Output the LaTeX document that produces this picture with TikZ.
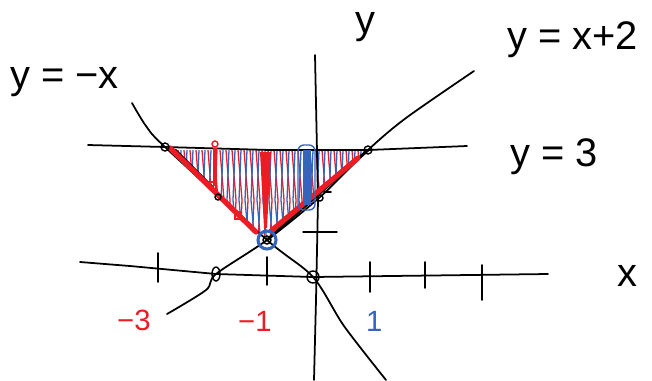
\documentclass[tikz,border=0pt]{standalone}
\usepackage{fontspec}
\setmainfont{Liberation Sans}
\usepackage{xcolor}
\usetikzlibrary{math}
\definecolor{myblue}{RGB}{52,100,190}
\definecolor{myred}{RGB}{237,28,36}
\tikzset{
  pen/.style={line width=1.5pt, line cap=round, line join=round},
  hatch/.style={line width=1.1pt},
  lbl/.style={font=\fontsize{34}{40}\selectfont, inner sep=0pt, anchor=base west},
  num/.style={font=\fontsize{25}{30}\selectfont, inner sep=0pt, anchor=base west}
}
\begin{document}
\begin{tikzpicture}[x=0.03cm, y=-0.03cm]
\tikzmath{
\d=6;
}
\useasboundingbox (0,0) rectangle (652,380);

\coordinate (O) at (313,277);
\coordinate (V) at (267,240);
\coordinate (L3) at (165,147);
\coordinate (R3) at (368,150);
\coordinate (Xm2) at (216,274);

\begin{scope}
\clip (L3) -- (R3) -- (V) -- cycle;
\foreach \k in {0,...,34}{
  \draw[hatch, myred] (166+\d*\k,150) -- (170+\d*\k,200) -- (168+\d*\k,245);
  \draw[hatch, myblue] (169+\d*\k,150) -- (167+\d*\k,200) -- (171+\d*\k,245);
}
\end{scope}

\draw[pen] (80,262) -- (130,266) -- (Xm2) -- (O) -- (548,274);
\draw[pen] (315,55) -- (318,200) -- (316,300) -- (314,380);
\draw[pen] (88,145) -- (L3) -- (270,150) -- (R3) -- (467,146);
\draw[pen] plot[smooth] coordinates {(132,103) (146,126) (L3) (V) (O) (344,326) (386,380)};
\draw[pen] plot[smooth] coordinates {(167,314) (206,290) (Xm2) (V) (320,197) (R3) (406,118) (474,71)};

\foreach \tx/\ta/\tb in {158/253/282, 267/257/285, 370/262/292, 425/262/288, 482/265/300}{
  \draw[pen] (\tx,\ta) -- (\tx,\tb);
}
\draw[pen] (303,232) -- (337,232);
\draw[pen] (324,192) -- (331,192);

\draw[line width=2.6pt, line cap=round] (175,150) -- (213,188);
\draw[line width=2.6pt, line cap=round] (V) -- (R3);
\draw[line width=4.5pt, color=myred, line cap=round] (170,148) -- (256,232);
\draw[line width=4.5pt, color=myred, line cap=round] (271,231) -- (358,158);

\fill[myred] (260,152) -- (271,152) -- (267,228) -- (264,228) -- cycle;
\draw[line width=2.6pt, color=myred] (215,148) -- (215,186);
\draw[line width=1.2pt, color=myred] (215,144) circle (3);
\fill[myblue] (303,150) rectangle (311,205);
\draw[line width=1.2pt, color=myblue, rounded corners=5] (298,145) rectangle (315,210);
\draw[line width=1.2pt, color=myred] (210,182) rectangle (216,189);
\draw[line width=1.2pt, color=myred] (235,212) rectangle (241,219);

\draw[line width=1.2pt] (L3) circle (4);
\draw[line width=1.2pt] (R3) circle (4);
\draw[line width=1.2pt] (Xm2) ellipse (4 and 7);
\draw[line width=1.2pt] (O) circle (6);
\draw[line width=1.2pt] (218,197) circle (3);
\draw[line width=1.2pt] (320,198) circle (3);
\draw[line width=1.2pt] (V) circle (4);
\draw[line width=2.6pt, color=myblue] (V) circle (9);

\node[lbl] (eqneg) at (10,88) {y = −x};
\node[lbl] (ylab) at (355,33) {y};
\node[lbl] (eqlin) at (507,49) {y = x+2};
\node[lbl] (eqthree) at (510,166) {y = 3};
\node[lbl] (xlab) at (617,286) {x};
\node[num, myred] (mthree) at (117,330) {−3};
\node[num, myred] (mone) at (238,331) {−1};
\node[num, myblue] (pone) at (366,331) {1};

\end{tikzpicture}
\end{document}
